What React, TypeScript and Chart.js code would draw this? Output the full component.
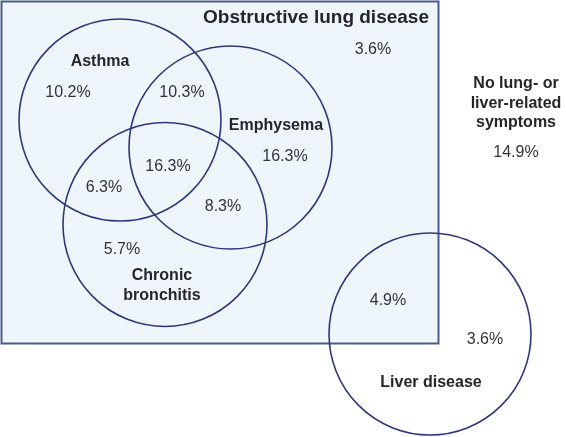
import React, { useEffect, useRef } from "react";
import { Chart, registerables } from "chart.js";

Chart.register(...registerables);

const W = 566;
const H = 437;

// Sets (circles) in diagram units
const setNames = ["Asthma", "Emphysema", "Chronic bronchitis", "Liver disease"];
const setCenterX = [120, 230.5, 165, 430];
const setCenterY = [120, 147.5, 224.5, 334];
const setRadius = [101, 101.5, 102, 101];

// Obstructive lung disease box (x0, y0, x1, y1)
const groupBox = [1.5, 1.5, 438.5, 343.5];

// Region percentages
const regionValues = ["10.2%", "10.3%", "16.3%", "16.3%", "6.3%", "8.3%", "5.7%", "3.6%", "4.9%", "3.6%", "14.9%"];
const regionX = [68, 182, 285, 168, 104, 223, 122, 373, 388, 485, 516];
const regionY = [93, 93, 157, 167, 188, 207, 250, 50, 301, 340, 153];

// Bold labels
const labelTexts = [
  ["Obstructive lung disease"],
  ["Asthma"],
  ["Emphysema"],
  ["Chronic", "bronchitis"],
  ["Liver disease"],
  ["No lung- or", "liver-related", "symptoms"],
];
const labelX = [316, 100, 276, 162, 431, 516];
const labelY = [18, 62, 126, 276, 383, 84];
const labelSize = [19, 16, 16, 16, 16, 16];

const FONT = "'Liberation Sans', Arial, Helvetica, sans-serif";

const vennPlugin = {
  id: "venn",
  beforeDatasetsDraw(chart: any) {
    const ctx = chart.ctx;
    const xs = chart.scales.x;
    const ys = chart.scales.y;
    const x0 = xs.getPixelForValue(groupBox[0]);
    const y0 = ys.getPixelForValue(groupBox[1]);
    const x1 = xs.getPixelForValue(groupBox[2]);
    const y1 = ys.getPixelForValue(groupBox[3]);
    ctx.save();
    ctx.fillStyle = "#eef6fc";
    ctx.fillRect(x0, y0, x1 - x0, y1 - y0);
    ctx.strokeStyle = "#4d5b8c";
    ctx.lineWidth = 2;
    ctx.strokeRect(x0, y0, x1 - x0, y1 - y0);
    ctx.restore();
  },
  afterDatasetsDraw(chart: any) {
    const ctx = chart.ctx;
    const xs = chart.scales.x;
    const ys = chart.scales.y;
    ctx.save();
    ctx.textAlign = "center";
    ctx.textBaseline = "middle";
    ctx.fillStyle = "#333333";
    ctx.font = `16px ${FONT}`;
    regionValues.forEach((v, i) => {
      ctx.fillText(v, xs.getPixelForValue(regionX[i]), ys.getPixelForValue(regionY[i]));
    });
    ctx.fillStyle = "#262626";
    labelTexts.forEach((lines, i) => {
      ctx.font = `bold ${labelSize[i]}px ${FONT}`;
      lines.forEach((line, j) => {
        ctx.fillText(line, xs.getPixelForValue(labelX[i]), ys.getPixelForValue(labelY[i] + j * 19.5));
      });
    });
    ctx.restore();
  },
};

export default function App() {
  const ref = useRef<HTMLCanvasElement | null>(null);
  useEffect(() => {
    if (!ref.current) return;
    const chart = new Chart(ref.current, {
      type: "bubble",
      data: {
        datasets: [
          {
            label: "Sets",
            data: setNames.map((_, i) => ({ x: setCenterX[i], y: setCenterY[i], r: setRadius[i] })),
            backgroundColor: "rgba(0,0,0,0)",
            borderColor: "#2e3878",
            borderWidth: 1.6,
            hoverBorderWidth: 1.6,
            clip: false,
          } as any,
        ],
      },
      options: {
        animation: false,
        responsive: false,
        maintainAspectRatio: false,
        devicePixelRatio: 1,
        layout: { padding: 0, autoPadding: false },
        events: [],
        scales: {
          x: { type: "linear", min: 0, max: W, display: false },
          y: { type: "linear", min: 0, max: H, reverse: true, display: false },
        },
        plugins: {
          legend: { display: false },
          tooltip: { enabled: false },
        },
      },
      plugins: [vennPlugin],
    });
    return () => chart.destroy();
  }, []);
  return (
    <div style={{ position: "absolute", left: 0, top: 0, width: W, height: H, background: "#ffffff" }}>
      <canvas ref={ref} width={W} height={H} style={{ display: "block", width: W, height: H }} />
    </div>
  );
}
